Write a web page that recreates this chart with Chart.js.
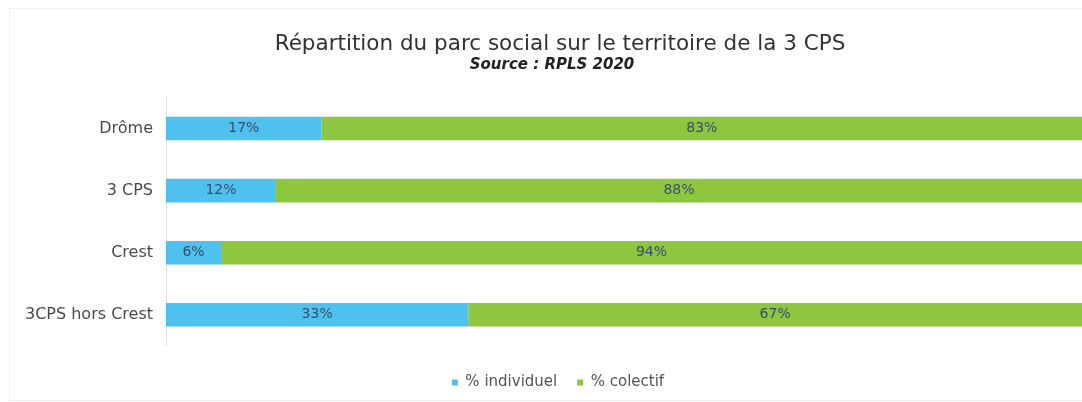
<!DOCTYPE html>
<html>
<head>
<meta charset="utf-8">
<script src="https://cdn.jsdelivr.net/npm/chart.js@4"></script>
<style>
  html, body { margin: 0; padding: 0; background: #fff; }
  #wrap { width: 1082px; height: 402px; position: relative; }
</style>
</head>
<body>
<div id="wrap"><canvas id="chart" width="1082" height="402"></canvas></div>
<script>
const categories = ["Drôme", "3 CPS", "Crest", "3CPS hors Crest"];
const individuel = [17, 12, 6, 33];
const collectif = [83, 88, 94, 67];

// write the % value in the middle of each segment
const barLabels = {
    id: 'barLabels',
    afterDatasetsDraw(chart) {
        const ctx = chart.ctx;
        ctx.save();
        ctx.font = '14px "DejaVu Sans", sans-serif';
        ctx.fillStyle = '#34506a';
        ctx.textAlign = 'center';
        ctx.textBaseline = 'middle';
        chart.data.datasets.forEach((ds, i) => {
            chart.getDatasetMeta(i).data.forEach((bar, j) => {
                const p = bar.getProps(['x', 'y', 'base'], true);
                ctx.fillText(ds.data[j] + '%', (p.x + p.base) / 2, p.y);
            });
        });
        ctx.restore();
    }
};

// faint frame round the chart
const frame = {
    id: 'frame',
    beforeDraw(chart) {
        const ctx = chart.ctx;
        ctx.save();
        ctx.strokeStyle = '#eeeeee';
        ctx.lineWidth = 1;
        ctx.strokeRect(9.5, 8.5, chart.width, chart.height - 10);
        ctx.restore();
    }
};

// the original centres its titles and legend a bit right of the middle
const nudge = {
    id: 'nudge',
    afterLayout(chart) {
        const shift = (box, dx) => {
            if (box) { box.left += dx; box.right += dx; }
        };
        shift(chart.titleBlock, 19);
        shift(chart.boxes.find(b => b.options && b.options.text === 'Source : RPLS 2020'), 11);
        shift(chart.legend, 17);
    }
};

new Chart(document.getElementById('chart').getContext('2d'), {
    type: 'bar',
    data: {
        labels: categories,
        datasets: [
            {label: '% individuel', data: individuel, backgroundColor: '#4fc1ee'},
            {label: '% colectif', data: collectif, backgroundColor: '#8ec63f'}
        ]
    },
    options: {
        indexAxis: 'y',
        responsive: false,
        animation: false,
        layout: {padding: {left: 0, right: 0, top: 34, bottom: 2}},
        datasets: {bar: {categoryPercentage: 1, barPercentage: 0.38}},
        scales: {
            x: {
                stacked: true,
                min: 0,
                max: 100,
                grid: {display: false},
                border: {display: false},
                ticks: {display: false},
                title: {display: true, text: ' ', font: {size: 1}, padding: {top: 0, bottom: 0}}
            },
            y: {
                stacked: true,
                grid: {display: false, drawTicks: false},
                border: {color: '#dddddd'},
                ticks: {
                    padding: 13,
                    color: '#4a4a4a',
                    font: {family: '"DejaVu Sans", sans-serif', size: 16}
                },
                afterFit(axis) { axis.width = 166; }
            }
        },
        plugins: {
            title: {
                display: true,
                text: 'Répartition du parc social sur le territoire de la 3 CPS',
                color: '#333',
                font: {family: '"DejaVu Sans", sans-serif', size: 21.5, weight: 'normal', lineHeight: 1},
                padding: {top: 0, bottom: 1}
            },
            subtitle: {
                display: true,
                text: 'Source : RPLS 2020',
                color: '#222',
                font: {family: '"DejaVu Sans", sans-serif', size: 15, style: 'italic', weight: 'bold'},
                padding: {bottom: 23}
            },
            legend: {
                position: 'bottom',
                labels: {
                    boxWidth: 6,
                    boxHeight: 6,
                    padding: 20,
                    color: '#555',
                    font: {family: '"DejaVu Sans", sans-serif', size: 15}
                }
            },
            tooltip: {enabled: false}
        }
    },
    plugins: [frame, nudge, barLabels]
});
</script>
</body>
</html>
